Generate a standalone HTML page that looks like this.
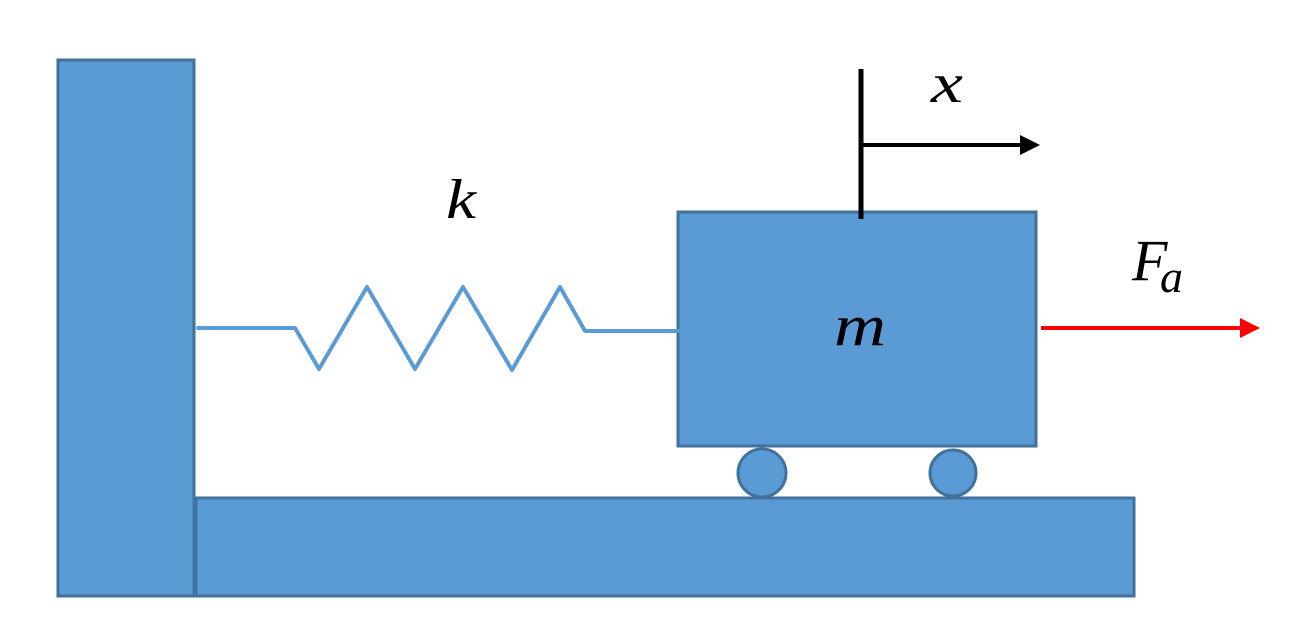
<!DOCTYPE html>
<html><head><style>
html,body{margin:0;padding:0;background:#fff;}
svg{display:block;}
text{font-family:"Liberation Serif","DejaVu Serif",serif;font-style:italic;fill:#000;}
</style></head><body>
<svg width="1310" height="638" viewBox="0 0 1310 638" xmlns="http://www.w3.org/2000/svg">
<g fill="#5b9bd5" stroke="#41719c" stroke-width="3">
<rect x="58" y="60" width="136" height="536"/>
<rect x="196" y="498" width="938" height="98"/>
<rect x="678" y="212" width="358" height="234"/>
<circle cx="762" cy="473" r="24"/>
<circle cx="953" cy="473" r="23"/>
</g>
<polyline points="198,328 295,328 319,369 367,287 415,369 463,287 512,370 560,287 585,331 678,331" fill="none" stroke="#5b9bd5" stroke-width="4" stroke-linejoin="round" stroke-linecap="round"/>
<line x1="861" y1="69" x2="861" y2="219" stroke="#000" stroke-width="5"/>
<line x1="861" y1="145" x2="1022" y2="145" stroke="#000" stroke-width="4"/>
<polygon points="1040,145 1020,135 1020,155" fill="#000"/>
<line x1="1041" y1="328" x2="1242" y2="328" stroke="#f00" stroke-width="4"/>
<polygon points="1260,328 1240,318 1240,338" fill="#f00"/>
<text x="931" y="102" font-size="56" textLength="32" lengthAdjust="spacingAndGlyphs">x</text>
<text x="446" y="218" font-size="56" textLength="30" lengthAdjust="spacingAndGlyphs">k</text>
<text x="834" y="345" font-size="58" textLength="52" lengthAdjust="spacingAndGlyphs">m</text>
<text x="1132" y="280" font-size="58">F</text>
<text x="1160" y="292" font-size="46">a</text>
</svg>
</body></html>
